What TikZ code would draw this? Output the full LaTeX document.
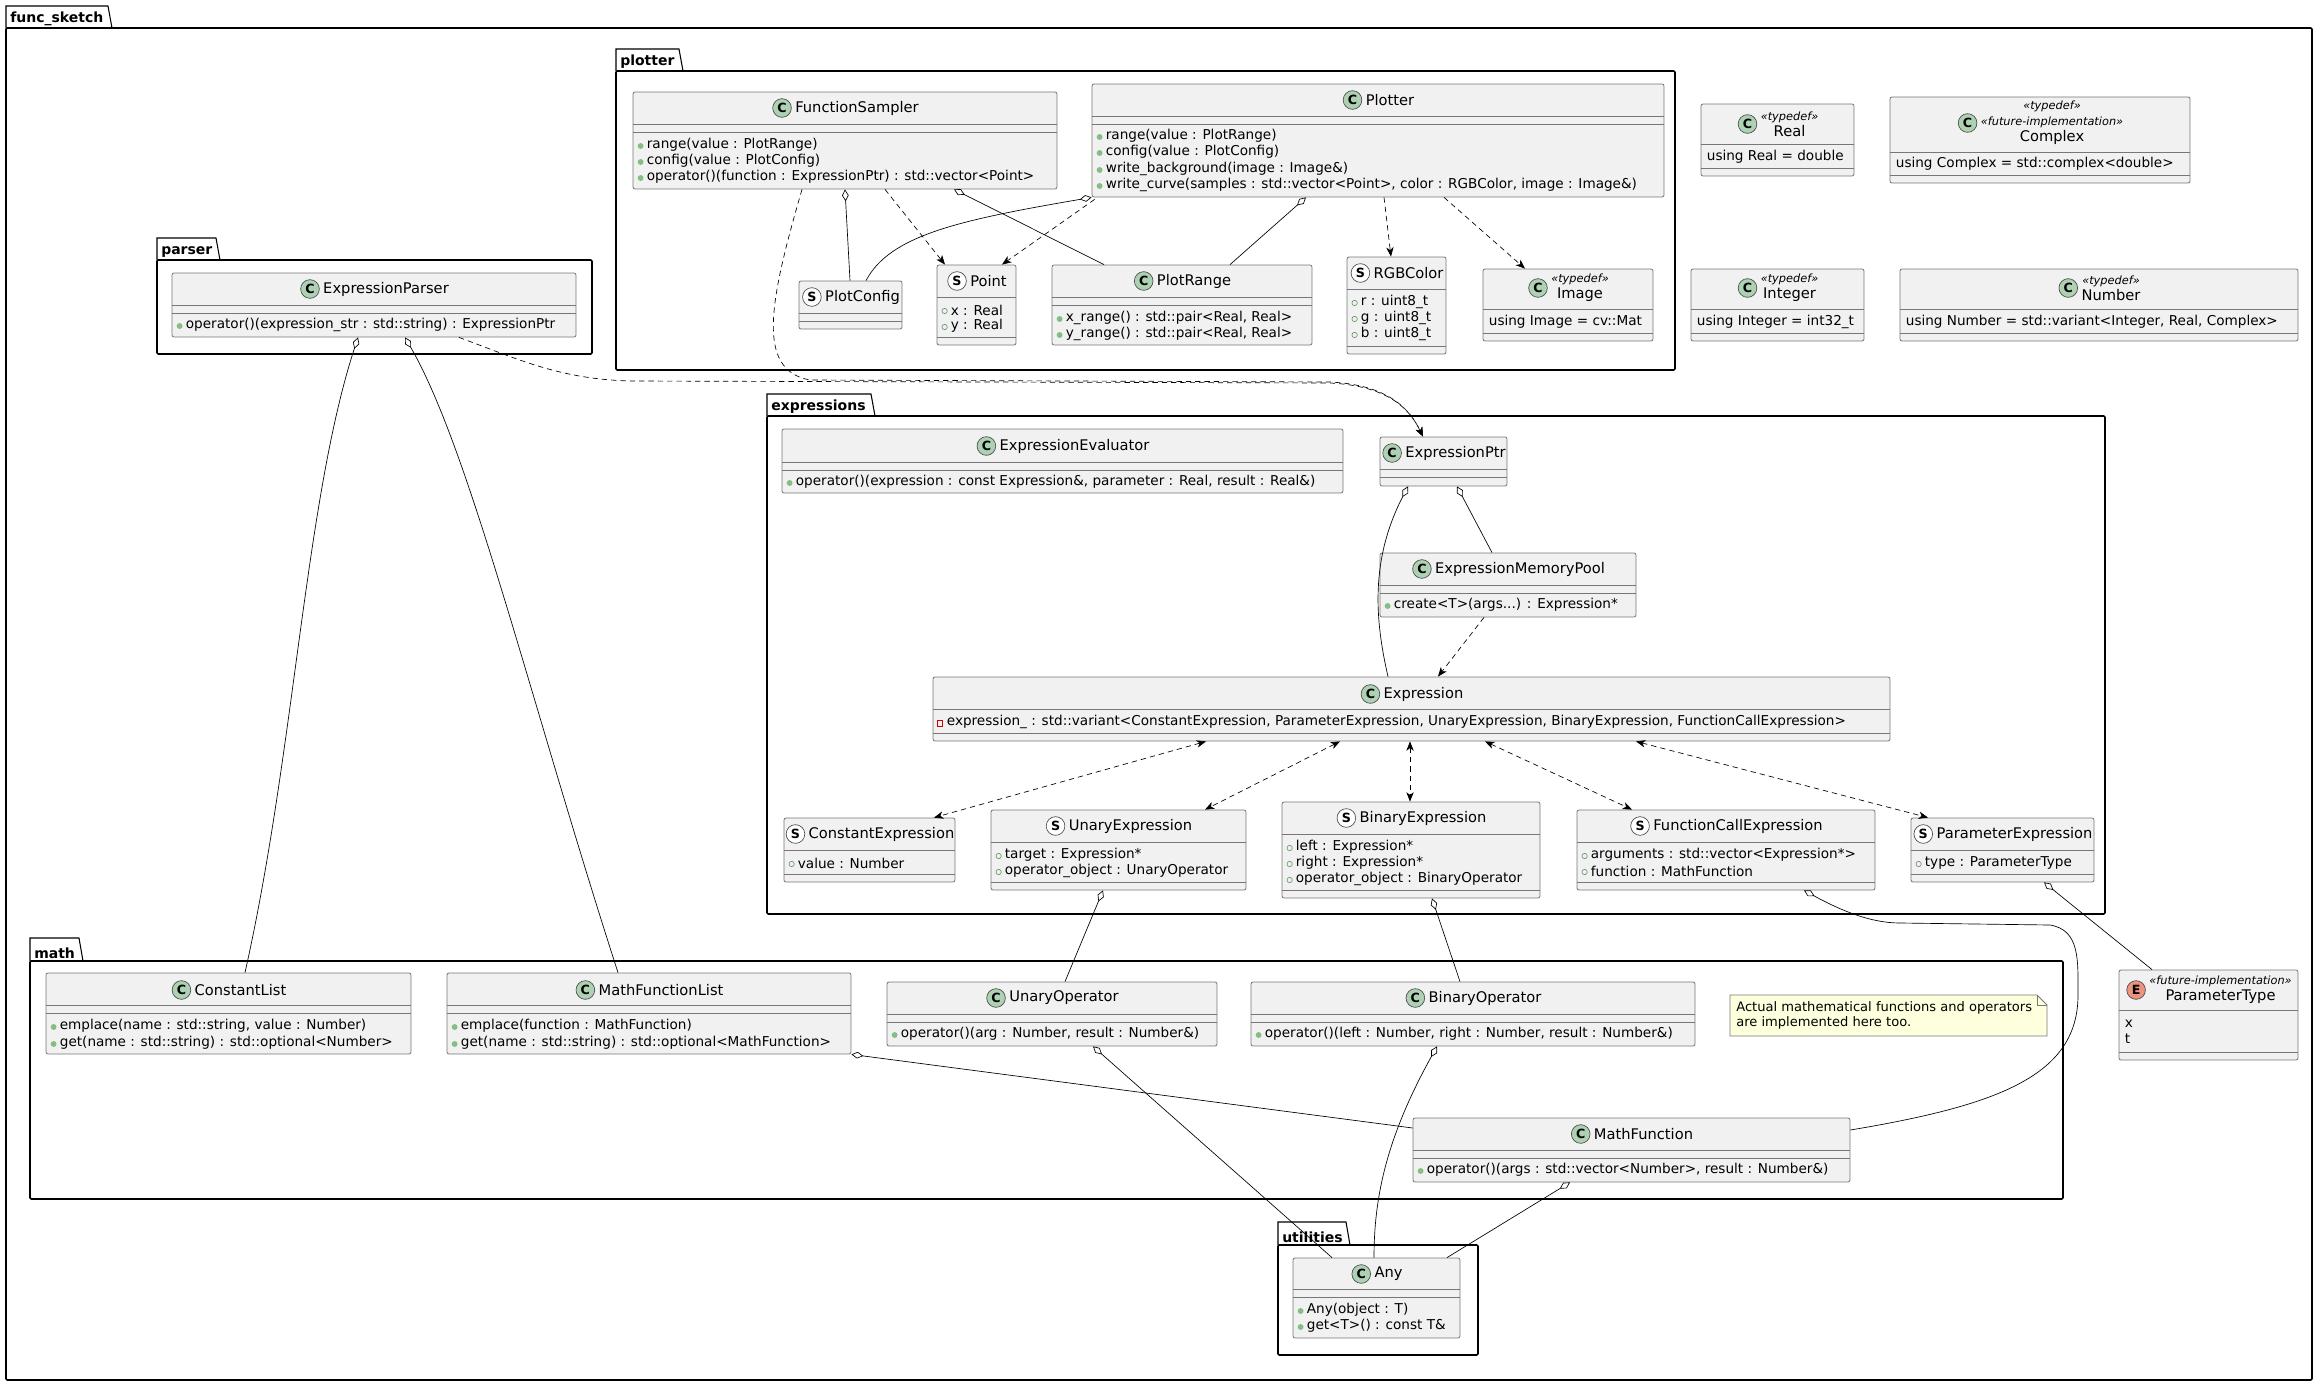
\documentclass[tikz,border=0pt]{standalone}
\usepackage{fontspec}
\setmainfont{DejaVu Sans}
\usetikzlibrary{arrows.meta,fit,calc}
\definecolor{boxfill}{HTML}{F1F1F1}
\definecolor{boxline}{HTML}{777777}
\definecolor{cgreen}{HTML}{ADD1B2}
\definecolor{egreen}{HTML}{EB937F}
\definecolor{mgreen}{HTML}{84BE84}
\definecolor{notefill}{HTML}{FEFFDD}
\newcommand\stereof{\fontsize{8.5}{9.5}\itshape\selectfont}
\tikzset{
  x=0.75pt,y=-0.75pt,
  ubox/.style={draw=boxline,fill=boxfill,line width=0.6pt,rounded corners=1.5pt,inner sep=0pt},
  udiv/.style={draw=boxline,line width=0.6pt},
  utitle/.style={inner sep=0pt,font=\fontsize{11}{12}\selectfont,align=center},
  ucirc/.style={circle,draw=black!70,line width=0.5pt,minimum size=14pt,inner sep=0pt,font=\fontsize{9.5}{9.5}\bfseries\selectfont},
  umt/.style={inner sep=0pt,anchor=west,font=\fontsize{10.2}{11}\selectfont},
  pkgframe/.style={draw=black,line width=1.2pt,rounded corners=1pt},
  pkgtab/.style={draw=black,line width=0.8pt},
  pkgtitle/.style={inner sep=0pt,anchor=south west,font=\fontsize{10.5}{11}\bfseries\selectfont},
  agg/.style={draw=black,line width=0.5pt,{Diamond[open,length=9pt,width=5pt]}-},
  dep/.style={draw=black,line width=0.5pt,dash pattern=on 4pt off 3pt,-{Stealth[length=7pt,width=5.5pt,inset=2pt]}},
  bidep/.style={draw=black,line width=0.5pt,dash pattern=on 4pt off 3pt,{Stealth[length=7pt,width=5.5pt,inset=2pt]}-{Stealth[length=7pt,width=5.5pt,inset=2pt]}}
}
\newcommand\umlbox[5]{\node[ubox,fit={(#2,#3) (#4,#5)}] (#1) {};}
\newcommand\udv[2]{\draw[udiv] (#1.west |- 0,#2) -- (#1.east |- 0,#2);}
\newcommand\utl[5]{\node[utitle] (#1-t) at ($(#1.north |- 0,#2)+(12,0)$) {#5};
  \node[ucirc,fill=#4] at ($(#1-t.west)+(-13,0)$) {#3};}
\newcommand\um[3]{\fill[mgreen] ($(#1.west |- 0,#2)+(8,1)$) circle (2.2pt);
  \node[umt] at ($(#1.west |- 0,#2)+(14,0)$) {#3};}
\newcommand\uf[3]{\draw[mgreen!80!black,line width=0.5pt] ($(#1.west |- 0,#2)+(8,1)$) circle (2pt);
  \node[umt] at ($(#1.west |- 0,#2)+(14,0)$) {#3};}
\newcommand\upv[3]{\draw[red!80!black,line width=0.5pt] ($(#1.west |- 0,#2)+(5,-2)$) rectangle ($(#1.west |- 0,#2)+(10,4)$);
  \node[umt] at ($(#1.west |- 0,#2)+(14,0)$) {#3};}
\newcommand\ut[3]{\node[umt] at ($(#1.west |- 0,#2)+(6,0)$) {#3};}
\newcommand\pkg[7]{% name, tabx2, taby1, x1,y1,x2,y2
  \draw[pkgtab,fill=white] (#4,#5) -- (#4,#3) -- ({#2-4},#3) -- (#2,#5);
  \node[pkgtitle] at ({#4+4},{#5-2}) {#1};
  \draw[pkgframe] (#4,#5) rectangle (#6,#7);}
\begin{document}
\begin{tikzpicture}
\useasboundingbox (0,0) rectangle (2317,1384);
% packages
\pkg{func\_sketch}{112}{6}{6}{28}{2312}{1380}
\pkg{plotter}{683}{49}{616}{71}{1675}{370}
\pkg{parser}{220}{238}{157}{260}{592}{354}
\pkg{expressions}{875}{394}{767}{416}{2105}{914}
\pkg{math}{83}{938}{30}{961}{2063}{1199}
\pkg{utilities}{1350}{1222}{1278}{1245}{1478}{1355}

% plotter
\umlbox{FS}{633}{92}{1057}{189}
\utl{FS}{108}{C}{cgreen}{FunctionSampler}
\udv{FS}{124}\udv{FS}{132}
\um{FS}{145}{range(value : PlotRange)}
\um{FS}{161}{config(value : PlotConfig)}
\um{FS}{177}{operator()(function : ExpressionPtr) : std::vector<Point>}

\umlbox{PL}{1092}{84}{1664}{197}
\utl{PL}{100}{C}{cgreen}{Plotter}
\udv{PL}{116}\udv{PL}{124}
\um{PL}{136}{range(value : PlotRange)}
\um{PL}{152}{config(value : PlotConfig)}
\um{PL}{169}{write\_background(image : Image\&)}
\um{PL}{185}{write\_curve(samples : std::vector<Point>, color : RGBColor, image : Image\&)}

\umlbox{PC}{799}{281}{902}{329}
\utl{PC}{297}{S}{white}{PlotConfig}
\udv{PC}{313}\udv{PC}{321}

\umlbox{PT}{937}{265}{1016}{345}
\utl{PT}{281}{S}{white}{Point}
\udv{PT}{297}
\uf{PT}{310}{x : Real}
\uf{PT}{326}{y : Real}
\udv{PT}{337}

\umlbox{PR}{1052}{265}{1312}{345}
\utl{PR}{281}{C}{cgreen}{PlotRange}
\udv{PR}{297}\udv{PR}{305}
\um{PR}{318}{x\_range() : std::pair<Real, Real>}
\um{PR}{334}{y\_range() : std::pair<Real, Real>}

\umlbox{RGB}{1347}{257}{1446}{354}
\utl{RGB}{273}{S}{white}{RGBColor}
\udv{RGB}{289}
\uf{RGB}{302}{r : uint8\_t}
\uf{RGB}{318}{g : uint8\_t}
\uf{RGB}{334}{b : uint8\_t}
\udv{RGB}{346}

\umlbox{IM}{1483}{269}{1653}{341}
\utl{IM}{288}{C}{cgreen}{{\stereof «typedef»}\\Image}
\udv{IM}{309}
\ut{IM}{322}{using Image = cv::Mat}
\udv{IM}{333}

% typedefs
\umlbox{RE}{1701}{104}{1854}{176}
\utl{RE}{124}{C}{cgreen}{{\stereof «typedef»}\\Real}
\udv{RE}{144}
\ut{RE}{157}{using Real = double}
\udv{RE}{168}

\umlbox{CO}{1890}{97}{2190}{183}
\utl{CO}{123}{C}{cgreen}{{\stereof «typedef»}\\{\stereof «future-implementation»}\\Complex}
\udv{CO}{152}
\ut{CO}{164}{using Complex = std::complex<double>}
\udv{CO}{175}

\umlbox{IN}{1691}{269}{1864}{341}
\utl{IN}{288}{C}{cgreen}{{\stereof «typedef»}\\Integer}
\udv{IN}{309}
\ut{IN}{322}{using Integer = int32\_t}
\udv{IN}{333}

\umlbox{NU}{1900}{269}{2298}{341}
\utl{NU}{288}{C}{cgreen}{{\stereof «typedef»}\\Number}
\udv{NU}{309}
\ut{NU}{322}{using Number = std::variant<Integer, Real, Complex>}
\udv{NU}{333}

% parser
\umlbox{EP}{172}{273}{576}{337}
\utl{EP}{289}{C}{cgreen}{ExpressionParser}
\udv{EP}{305}\udv{EP}{313}
\um{EP}{325}{operator()(expression\_str : std::string) : ExpressionPtr}

% expressions
\umlbox{EE}{782}{429}{1343}{493}
\utl{EE}{446}{C}{cgreen}{ExpressionEvaluator}
\udv{EE}{462}\udv{EE}{470}
\um{EE}{482}{operator()(expression : const Expression\&, parameter : Real, result : Real\&)}

\umlbox{EPtr}{1380}{437}{1507}{486}
\utl{EPtr}{453}{C}{cgreen}{ExpressionPtr}
\udv{EPtr}{469}\udv{EPtr}{477}

\umlbox{EMP}{1380}{553}{1636}{617}
\utl{EMP}{569}{C}{cgreen}{ExpressionMemoryPool}
\udv{EMP}{585}\udv{EMP}{593}
\um{EMP}{605}{create<T>(args...) : Expression*}

\umlbox{EX}{933}{677}{1890}{741}
\utl{EX}{694}{C}{cgreen}{Expression}
\udv{EX}{709}
\upv{EX}{722}{expression\_ : std::variant<ConstantExpression, ParameterExpression, UnaryExpression, BinaryExpression, FunctionCallExpression>}
\udv{EX}{733}

\umlbox{CE}{784}{818}{955}{882}
\utl{CE}{834}{S}{white}{ConstantExpression}
\udv{CE}{850}
\uf{CE}{863}{value : Number}
\udv{CE}{874}

\umlbox{UE}{991}{810}{1246}{890}
\utl{UE}{826}{S}{white}{UnaryExpression}
\udv{UE}{842}
\uf{UE}{855}{target : Expression*}
\uf{UE}{871}{operator\_object : UnaryOperator}
\udv{UE}{882}

\umlbox{BE}{1282}{802}{1540}{898}
\utl{BE}{818}{S}{white}{BinaryExpression}
\udv{BE}{834}
\uf{BE}{847}{left : Expression*}
\uf{BE}{863}{right : Expression*}
\uf{BE}{879}{operator\_object : BinaryOperator}
\udv{BE}{890}

\umlbox{FCE}{1577}{810}{1875}{890}
\utl{FCE}{826}{S}{white}{FunctionCallExpression}
\udv{FCE}{842}
\uf{FCE}{855}{arguments : std::vector<Expression*>}
\uf{FCE}{871}{function : MathFunction}
\udv{FCE}{882}

\umlbox{PE}{1911}{818}{2094}{882}
\utl{PE}{834}{S}{white}{ParameterExpression}
\udv{PE}{850}
\uf{PE}{863}{type : ParameterType}
\udv{PE}{874}

% math
\umlbox{CL}{46}{973}{411}{1054}
\utl{CL}{990}{C}{cgreen}{ConstantList}
\udv{CL}{1005}\udv{CL}{1013}
\um{CL}{1026}{emplace(name : std::string, value : Number)}
\um{CL}{1043}{get(name : std::string) : std::optional<Number>}

\umlbox{MFL}{447}{973}{851}{1054}
\utl{MFL}{990}{C}{cgreen}{MathFunctionList}
\udv{MFL}{1005}\udv{MFL}{1013}
\um{MFL}{1026}{emplace(function : MathFunction)}
\um{MFL}{1043}{get(name : std::string) : std::optional<MathFunction>}

\umlbox{UO}{887}{982}{1217}{1046}
\utl{UO}{998}{C}{cgreen}{UnaryOperator}
\udv{UO}{1014}\udv{UO}{1022}
\um{UO}{1034}{operator()(arg : Number, result : Number\&)}

\umlbox{BO}{1251}{982}{1695}{1046}
\utl{BO}{998}{C}{cgreen}{BinaryOperator}
\udv{BO}{1014}\udv{BO}{1022}
\um{BO}{1034}{operator()(left : Number, right : Number, result : Number\&)}

\draw[draw=boxline,fill=notefill,line width=0.6pt] (1730,995) -- (2037,995) -- (2047,1005) -- (2047,1036) -- (1730,1036) -- cycle;
\draw[draw=boxline,line width=0.6pt] (2037,995) -- (2037,1005) -- (2047,1005);
\node[umt,align=left,font=\fontsize{9.8}{11.3}\selectfont] (NOTE) at (1736,1015) {Actual mathematical functions and operators\\are implemented here too.};

\umlbox{MF}{1413}{1118}{1850}{1182}
\utl{MF}{1134}{C}{cgreen}{MathFunction}
\udv{MF}{1150}\udv{MF}{1158}
\um{MF}{1170}{operator()(args : std::vector<Number>, result : Number\&)}

\umlbox{PTY}{2119}{970}{2298}{1060}
\utl{PTY}{990}{E}{egreen}{{\stereof «future-implementation»}\\ParameterType}
\udv{PTY}{1010}
\ut{PTY}{1024}{x}
\ut{PTY}{1039}{t}
\udv{PTY}{1052}

% utilities
\umlbox{ANY}{1293}{1258}{1460}{1338}
\utl{ANY}{1274}{C}{cgreen}{Any}
\udv{ANY}{1289}\udv{ANY}{1297}
\um{ANY}{1310}{Any(object : T)}
\um{ANY}{1326}{get<T>() : const T\&}

% connectors
\draw[agg] (FS.south -| 845,0) -- (PC.north -| 850,0);
\draw[dep] (FS.south -| 885,0) -- (PT.north -| 945,0);
\draw[agg] (FS.south -| 954,0) -- (PR.north -| 1104,0);
\draw[dep] (FS.south -| 802,0) .. controls (770,300) and (755,370) .. (810,380) -- (1330,382) .. controls (1390,385) and (1410,410) .. (EPtr.north -| 1423,0);
\draw[dep] (EP.south -| 459,0) .. controls (520,360) and (560,379) .. (630,381) -- (1330,383) .. controls (1390,386) and (1410,410) .. (EPtr.north -| 1423,0);
\draw[agg] (PL.south west) .. controls (960,220) and (890,235) .. (PC.north -| 866,0);
\draw[dep] ($(PL.south west)+(3,2)$) -- (PT.north -| 1002,0);
\draw[agg] (PL.south -| 1306,0) -- (PR.north -| 1230,0);
\draw[dep] (PL.south -| 1384,0) -- (RGB.north -| 1391,0);
\draw[dep] (PL.south -| 1444,0) -- (IM.north -| 1525,0);
\draw[agg] (EP.south -| 358,0) .. controls (305,500) and (295,750) .. (CL.north -| 245,0);
\draw[agg] (EP.south -| 405,0) .. controls (470,450) and (530,700) .. (MFL.north -| 618,0);
\draw[agg] (EPtr.south -| 1408,0) .. controls (1370,560) and (1375,620) .. (EX.north -| 1388,0);
\draw[agg] (EPtr.south -| 1457,0) -- (EMP.north -| 1492,0);
\draw[dep] (EMP.south -| 1484,0) -- (EX.north -| 1438,0);
\draw[bidep] (EX.south -| 1206,0) -- (CE.north -| 934,0);
\draw[bidep] (EX.south -| 1340,0) -- (UE.north -| 1205,0);
\draw[bidep] (EX.south -| 1410,0) -- (BE.north -| 1410,0);
\draw[bidep] (EX.south -| 1485,0) -- (FCE.north -| 1632,0);
\draw[bidep] (EX.south -| 1636,0) -- (PE.north -| 1928,0);
\draw[agg] (UE.south -| 1103,0) -- (UO.north -| 1065,0);
\draw[agg] (BE.south -| 1432,0) -- (BO.north -| 1460,0);
\draw[agg] (FCE.south -| 1804,0) .. controls (1840,910) and (1870,923) .. (1900,923) -- (2050,925) .. controls (2080,930) and (2078,960) .. (2078,995) .. controls (2078,1075) and (2000,1105) .. (MF.east |- 0,1130);
\draw[agg] (PE.south -| 2044,0) -- (PTY.north -| 2152,0);
\draw[agg] (MFL.south east) -- (MF.west |- 0,1128);
\draw[agg] (UO.south -| 1093,0) -- (ANY.north -| 1332,0);
\draw[agg] (BO.south -| 1437,0) .. controls (1385,1140) and (1374,1200) .. (ANY.north -| 1374,0);
\draw[agg] (MF.south -| 1570,0) -- (ANY.north -| 1447,0);
\end{tikzpicture}
\end{document}
